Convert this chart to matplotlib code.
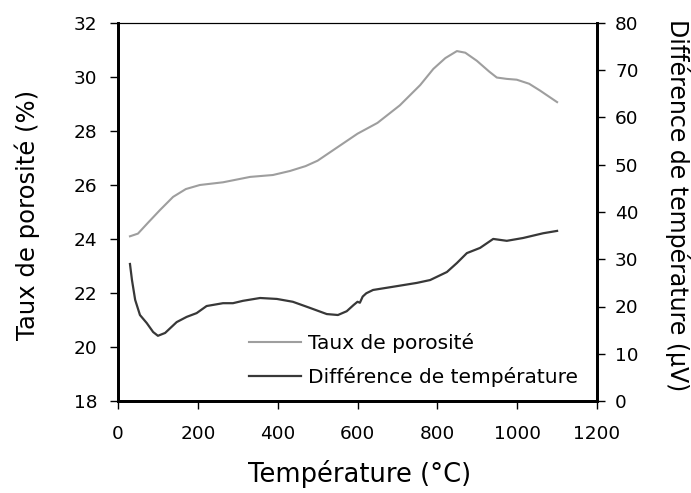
import matplotlib.pyplot as plt

# Taux de porosité (axe gauche)
temp_poro = [30, 50, 75, 105, 138, 170, 205, 263, 331, 388, 431, 470, 500, 530, 560,
             600, 650, 706, 757, 790, 820, 849, 870, 899, 930, 949, 974, 999, 1030, 1057, 1100]
poro = [24.1, 24.2, 24.6, 25.07, 25.56, 25.85, 26.0, 26.1, 26.3, 26.37, 26.52, 26.7, 26.9, 27.2, 27.5,
        27.9, 28.3, 28.95, 29.7, 30.3, 30.7, 30.96, 30.9, 30.6, 30.2, 29.98, 29.93, 29.9, 29.75, 29.5, 29.07]

# Différence de température (axe droit)
temp_dt = [30, 35, 43, 55, 72, 88, 100, 118, 147, 172, 197, 222, 263, 288, 313, 356, 398, 438,
           481, 523, 551, 573, 590, 600, 606, 613, 622, 639, 698, 749, 782, 824, 849, 874, 907, 940, 974,
           1015, 1065, 1100]
dt = [29.0, 25.6, 21.4, 18.2, 16.5, 14.6, 13.8, 14.4, 16.7, 17.8, 18.6, 20.1, 20.7, 20.7, 21.2, 21.8,
      21.6, 21.0, 19.7, 18.4, 18.2, 19.0, 20.3, 21.0, 20.8, 22.1, 22.8, 23.5, 24.3, 25.0, 25.6, 27.3, 29.2, 31.3,
      32.4, 34.3, 33.9, 34.5, 35.5, 36.0]

fig = plt.figure(figsize=(6.91, 4.93), dpi=100)
ax = fig.add_axes([118 / 691, 1 - 401 / 493, 479 / 691, 378 / 493])
ax2 = ax.twinx()

l1, = ax.plot(temp_poro, poro, color="#9e9e9e", lw=1.5, label="Taux de porosité")
l2, = ax2.plot(temp_dt, dt, color="#383838", lw=1.6, label="Différence de température")

ax.set_xlim(0, 1200)
ax.set_ylim(18, 32)
ax2.set_ylim(0, 80)
ax.set_xticks(range(0, 1201, 200))
ax.set_yticks(range(18, 33, 2))
ax2.set_yticks(range(0, 81, 10))

for a in (ax, ax2):
    for s in ("left", "right", "bottom"):
        a.spines[s].set_linewidth(2)
    a.spines["top"].set_linewidth(0.8)
    a.tick_params(direction="out", length=6, width=1, labelsize=13.3, pad=7)
ax.tick_params(axis="x", pad=11)
ax.tick_params(axis="y", pad=9)

# axis titles placed in figure pixels
fig.text(27 / 691, 1 - 215 / 493, "Taux de porosité (%)", fontsize=17.5,
         rotation=90, ha="center", va="center")
fig.text(678 / 691, 1 - 205 / 493, "Différence de température (µV)", fontsize=17,
         rotation=270, ha="center", va="center")
fig.text(360 / 691, 1 - 482 / 493, "Température (°C)", fontsize=18.5,
         ha="center", va="baseline")

ax.legend(handles=[l1, l2], loc="lower right", bbox_to_anchor=(0.998, -0.01), frameon=False,
          fontsize=14.5, handlelength=2.6, handletextpad=0.35, labelspacing=0.7)

fig.savefig("out.png", dpi=100)
